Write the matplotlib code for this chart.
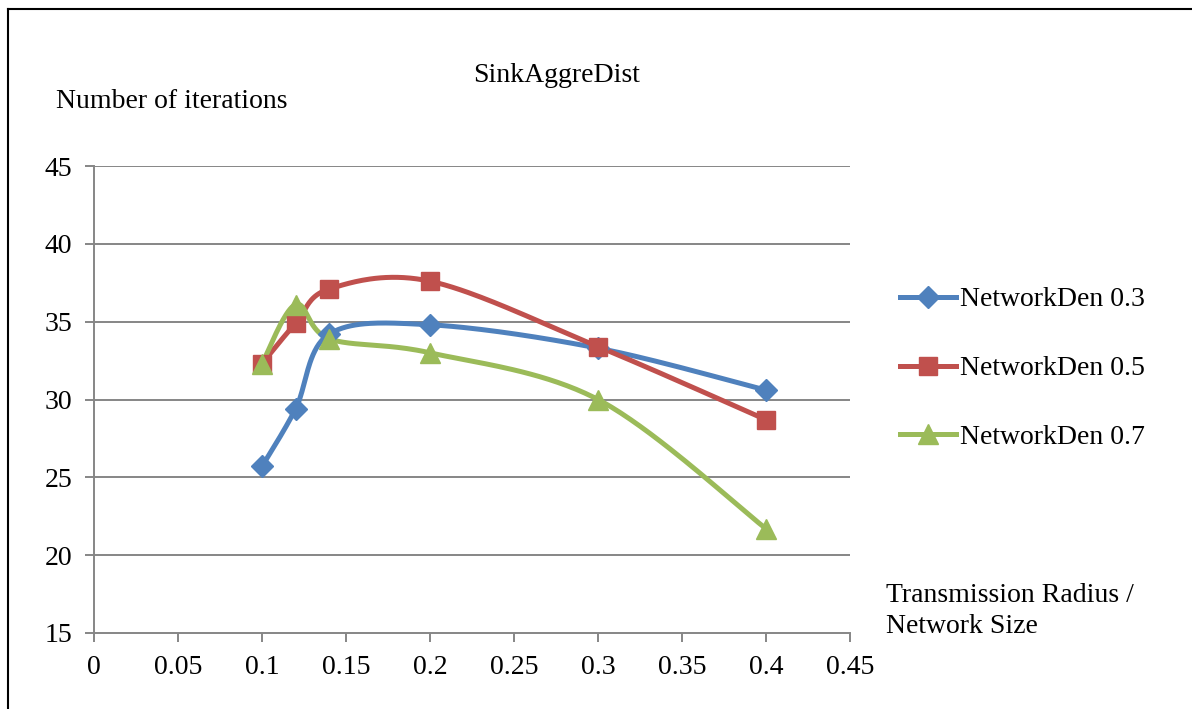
import numpy as np
import matplotlib
matplotlib.use("Agg")
import matplotlib.pyplot as plt
from matplotlib.lines import Line2D

x_vals = [0.1, 0.12, 0.14, 0.2, 0.3, 0.4]
den03 = [25.7, 29.4, 34.2, 34.8, 33.3, 30.6]
den05 = [32.3, 34.9, 37.1, 37.6, 33.4, 28.7]
den07 = [32.3, 36.1, 33.9, 33.0, 30.0, 21.7]
labels = ["NetworkDen 0.3", "NetworkDen 0.5", "NetworkDen 0.7"]
colors = ["#4F81BD", "#C0504D", "#9BBB59"]
markers = ["D", "s", "^"]
msizes = [11, 13, 14]
xticks = [0, 0.05, 0.1, 0.15, 0.2, 0.25, 0.3, 0.35, 0.4, 0.45]
yticks = [15, 20, 25, 30, 35, 40, 45]

plt.rcParams['font.family'] = ['Liberation Serif', 'DejaVu Serif']

W, H = 1192, 709
fig = plt.figure(figsize=(W / 100, H / 100), dpi=100)
ax = fig.add_axes([94 / W, 1 - 633 / H, (850 - 94) / W, (633 - 166) / H])
ax.set_xlim(0, 0.45)
ax.set_ylim(15, 45)

axw, axh = 850 - 94, 633 - 166


def smooth(xs, ys, n=40):
    px = np.array(xs) / 0.45 * axw
    py = np.array(ys) / 30.0 * axh
    pts = np.column_stack([px, py])
    m = len(pts)
    out = []
    for i in range(m - 1):
        p0 = pts[max(i - 1, 0)]
        p1 = pts[i]
        p2 = pts[i + 1]
        p3 = pts[min(i + 2, m - 1)]
        c1 = p1 + (p2 - p0) / 6.0
        c2 = p2 - (p3 - p1) / 6.0
        t = np.linspace(0, 1, n)[:, None]
        seg = ((1 - t) ** 3) * p1 + 3 * ((1 - t) ** 2) * t * c1 + 3 * (1 - t) * t ** 2 * c2 + t ** 3 * p2
        out.append(seg if i == 0 else seg[1:])
    out = np.vstack(out)
    return out[:, 0] / axw * 0.45, out[:, 1] / axh * 30.0


series = [den03, den05, den07]
for ys, c, mk, ms in zip(series, colors, markers, msizes):
    sx, sy = smooth(x_vals, ys)
    ax.plot(sx, sy, color=c, lw=3.6, solid_capstyle='round', zorder=3)
    ax.plot(x_vals, ys, linestyle='none', marker=mk, color=c, markersize=ms,
            markeredgecolor=c, zorder=4)

grid_c = "#868686"
for yv in yticks[1:]:
    ax.axhline(yv, color=grid_c, lw=1.4, zorder=1)
for s in ['top', 'right']:
    ax.spines[s].set_visible(False)
for s in ['left', 'bottom']:
    ax.spines[s].set_color(grid_c)
    ax.spines[s].set_linewidth(1.4)
ax.set_xticks(xticks)
ax.set_xticklabels([("%g" % v) for v in xticks])
ax.set_yticks(yticks)
ax.set_yticklabels([str(v) for v in yticks])
ax.tick_params(axis='both', direction='out', length=6.5, width=1.4, color=grid_c,
               labelsize=20)
ax.tick_params(axis='y', pad=9)
ax.tick_params(axis='x', pad=9)

fig.text(557 / W, 1 - 75 / H, "SinkAggreDist", ha='center', va='center', fontsize=20)
fig.text(56 / W, 1 - 101 / H, "Number of iterations", ha='left', va='center', fontsize=20)
fig.text(886 / W, 1 - 611 / H, "Transmission Radius /\nNetwork Size", ha='left', va='center',
         fontsize=20, linespacing=1.3)

handles = [Line2D([0], [0], color=c, lw=3.6, marker=mk, markersize=ms, markeredgecolor=c)
           for c, mk, ms in zip(colors, markers, msizes)]
fig.legend(handles, labels, loc='upper left', bbox_to_anchor=(900 / W, 1 - 287 / H),
           frameon=False, fontsize=20, handlelength=2.0, handletextpad=0.15,
           labelspacing=1.56, borderaxespad=0, borderpad=0)

fig.add_artist(Line2D([8 / W, 8 / W], [0, 1 - 9 / H], color='black', lw=1.5,
                      transform=fig.transFigure))
fig.add_artist(Line2D([8 / W, 1], [1 - 9 / H, 1 - 9 / H], color='black', lw=1.5,
                      transform=fig.transFigure))

fig.savefig("out.png", dpi=100)
